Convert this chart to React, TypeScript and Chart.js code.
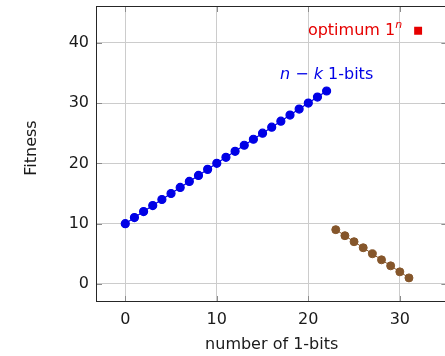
import { useEffect, useRef } from "react";
import { Chart, registerables } from "chart.js";

Chart.register(...registerables);

const blueX = [0, 1, 2, 3, 4, 5, 6, 7, 8, 9, 10, 11, 12, 13, 14, 15, 16, 17, 18, 19, 20, 21, 22];
const blueY = [10, 11, 12, 13, 14, 15, 16, 17, 18, 19, 20, 21, 22, 23, 24, 25, 26, 27, 28, 29, 30, 31, 32];
const brownX = [23, 24, 25, 26, 27, 28, 29, 30, 31];
const brownY = [9, 8, 7, 6, 5, 4, 3, 2, 1];
const optX = [32];
const optY = [42];
const xTicks = [0, 10, 20, 30];
const yTicks = [0, 10, 20, 30, 40];
const xTitle = "number of 1-bits";
const yTitle = "Fitness";

const FONT = "'DejaVu Sans', sans-serif";
const BLUE = "#0000e6";
const BROWN = "#85562b";
const RED = "#e60000";

type Seg = { t: string; italic?: boolean; sup?: boolean };

function drawRich(ctx: CanvasRenderingContext2D, segs: Seg[], x: number, y: number, align: "left" | "right" | "center", color: string) {
  const fontFor = (s: Seg) => `${s.italic ? "italic " : ""}${s.sup ? 11 : 16}px ${FONT}`;
  let total = 0;
  const widths = segs.map((s) => {
    ctx.font = fontFor(s);
    const w = ctx.measureText(s.t).width;
    total += w;
    return w;
  });
  let cx = align === "left" ? x : align === "right" ? x - total : x - total / 2;
  ctx.fillStyle = color;
  ctx.textAlign = "left";
  ctx.textBaseline = "middle";
  segs.forEach((s, i) => {
    ctx.font = fontFor(s);
    ctx.fillText(s.t, cx, s.sup ? y - 6 : y);
    cx += widths[i];
  });
}

const annot = {
  id: "annot",
  beforeDatasetsDraw(chart: any) {
    const { ctx, chartArea, scales } = chart;
    const L = chartArea.left, R = chartArea.right, T = chartArea.top, B = chartArea.bottom;
    ctx.save();
    // inward tick marks
    ctx.strokeStyle = "#8c8c8c";
    ctx.lineWidth = 1;
    ctx.beginPath();
    xTicks.forEach((v) => {
      const px = Math.round(scales.x.getPixelForValue(v)) + 0.5;
      ctx.moveTo(px, B);
      ctx.lineTo(px, B - 6);
      ctx.moveTo(px, T);
      ctx.lineTo(px, T + 6);
    });
    yTicks.forEach((v) => {
      const py = Math.round(scales.y.getPixelForValue(v)) + 0.5;
      ctx.moveTo(L, py);
      ctx.lineTo(L + 6, py);
      ctx.moveTo(R, py);
      ctx.lineTo(R - 6, py);
    });
    ctx.stroke();
    ctx.strokeStyle = "#262626";
    ctx.strokeRect(L + 0.5, T + 0.5, R - L - 1, B - T - 1);
    ctx.restore();
  },
  afterDatasetsDraw(chart: any) {
    const { ctx, chartArea, scales } = chart;
    const x = scales.x;
    const y = scales.y;
    ctx.save();
    const ox = x.getPixelForValue(optX[0]);
    const oy = y.getPixelForValue(optY[0]);
    drawRich(ctx, [{ t: "optimum 1" }, { t: "n", italic: true, sup: true }], ox - 16, oy, "right", RED);
    const bx = x.getPixelForValue(blueX[blueX.length - 1]);
    const by = y.getPixelForValue(blueY[blueY.length - 1]);
    drawRich(ctx, [{ t: "n", italic: true }, { t: " − " }, { t: "k", italic: true }, { t: " 1-bits" }], bx, by - 16, "center", BLUE);
    // axis titles
    ctx.fillStyle = "#1a1a1a";
    ctx.font = `16px ${FONT}`;
    ctx.textAlign = "center";
    ctx.textBaseline = "middle";
    ctx.fillText(xTitle, (chartArea.left + chartArea.right) / 2, 345);
    ctx.translate(32, (chartArea.top + chartArea.bottom) / 2 - 6);
    ctx.rotate(-Math.PI / 2);
    ctx.fillText(yTitle, 0, 0);
    ctx.restore();
  },
};

export default function App() {
  const ref = useRef<HTMLCanvasElement>(null);
  useEffect(() => {
    if (!ref.current) return;
    const chart = new Chart(ref.current, {
      type: "line",
      data: {
        datasets: [
          {
            data: blueX.map((v, i) => ({ x: v, y: blueY[i] })),
            borderColor: BLUE,
            backgroundColor: BLUE,
            pointBackgroundColor: BLUE,
            pointBorderColor: BLUE,
            borderWidth: 1.2,
            pointRadius: 4,
            showLine: true,
          },
          {
            data: brownX.map((v, i) => ({ x: v, y: brownY[i] })),
            borderColor: BROWN,
            backgroundColor: BROWN,
            pointBackgroundColor: BROWN,
            pointBorderColor: BROWN,
            borderWidth: 1,
            pointRadius: 4,
            showLine: true,
          },
          {
            data: optX.map((v, i) => ({ x: v, y: optY[i] })),
            borderColor: RED,
            backgroundColor: RED,
            pointBackgroundColor: RED,
            pointBorderColor: RED,
            pointStyle: "rect",
            pointRadius: 5.6,
            borderWidth: 0,
            showLine: false,
          },
        ],
      },
      options: {
        animation: false,
        responsive: false,
        maintainAspectRatio: false,
        layout: { padding: { top: 6, left: 0, right: 0, bottom: 0 } },
        plugins: { legend: { display: false }, tooltip: { enabled: false } },
        scales: {
          x: {
            type: "linear",
            min: -3.2,
            max: 35.2,
            afterFit: (s: any) => {
              s.height = 54;
              s.paddingLeft = 0;
              s.paddingRight = 0;
            },
            afterBuildTicks: (s: any) => {
              s.ticks = xTicks.map((v) => ({ value: v }));
            },
            grid: { color: "#cccccc", drawTicks: false, lineWidth: 1 },
            border: { display: false },
            ticks: { color: "#1a1a1a", font: { family: FONT, size: 16 }, padding: 8, maxRotation: 0 },
          },
          y: {
            type: "linear",
            min: -3,
            max: 46.1,
            afterFit: (s: any) => {
              s.width = 96;
              s.paddingTop = 0;
              s.paddingBottom = 0;
            },
            afterBuildTicks: (s: any) => {
              s.ticks = yTicks.map((v) => ({ value: v }));
            },
            grid: { color: "#cccccc", drawTicks: false, lineWidth: 1 },
            border: { display: false },
            ticks: { color: "#1a1a1a", font: { family: FONT, size: 16 }, padding: 7 },
          },
        },
      },
      plugins: [annot],
    });
    return () => chart.destroy();
  }, []);
  return (
    <div style={{ position: "fixed", left: 0, top: 0, width: 445, height: 356, overflow: "hidden", background: "#fff" }}>
      <canvas ref={ref} width={453} height={356} style={{ display: "block", width: 453, height: 356 }} />
    </div>
  );
}
